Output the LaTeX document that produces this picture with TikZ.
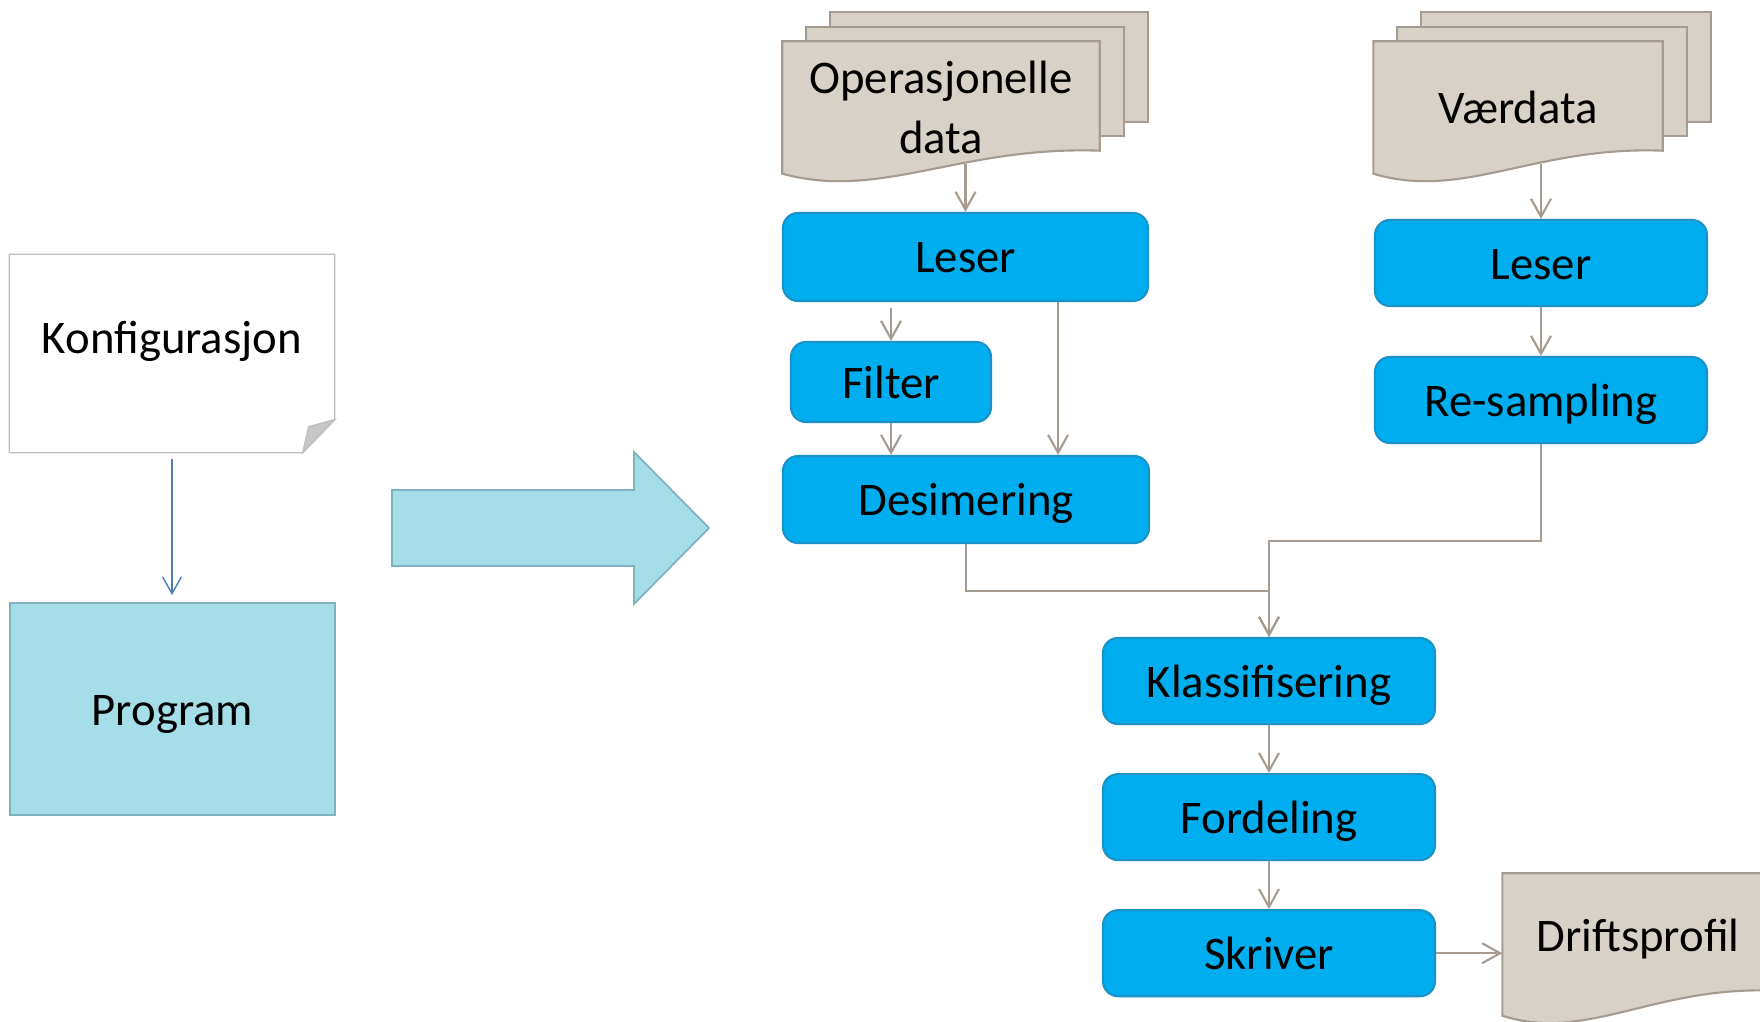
\documentclass[tikz,border=0pt]{standalone}
\usepackage{fontspec}
\setmainfont{Carlito}
\usepackage{tikz}
\usetikzlibrary{calc,chains,positioning,arrows.meta,backgrounds}
\usepackage{color}
\definecolor{boxblue}{RGB}{0,174,239}
\definecolor{boxline}{RGB}{24,146,200}
\definecolor{docfill}{RGB}{216,209,200}
\definecolor{docline}{RGB}{165,155,145}
\definecolor{pilgrey}{RGB}{166,155,145}
\definecolor{lyseblaa}{RGB}{165,222,232}
\definecolor{lyseline}{RGB}{125,178,195}
\definecolor{konfline}{RGB}{191,191,191}
\definecolor{tynnblaa}{RGB}{74,126,187}
\newcommand{\dokark}[2]{(#1.south west) -- (#1.north west) -- (#1.north east)
  -- ($(#1.south east)+(0,#2)$)
  .. controls ($(#1.south east)!0.44!(#1.south west)+(0,#2+0.05)$)
  and ($(#1.south west)!0.31!(#1.south east)+(0,-0.27)$) .. (#1.south west) -- cycle}

\begin{document}
\begin{tikzpicture}[font=\fontsize{13.3}{17}\selectfont,
    linje/.style={text height=0.32cm, text depth=0cm},
    blokk/.style={rectangle, rounded corners=0.15cm, draw=boxline, fill=boxblue,
      line width=0.6pt, minimum width=3.32cm, minimum height=0.86cm, inner sep=0pt, linje},
    dok/.style={rectangle, inner sep=0pt, align=center, minimum height=1.31cm},
    ark/.style={draw=docline, fill=docfill, line width=0.6pt},
    >={Straight Barb[length=0.18cm,width=0.2cm]},
    pil/.style={->, draw=pilgrey, line width=0.6pt},
    start chain=going below, node distance=0.48cm]

  \useasboundingbox (0,0) rectangle (17.6,-10.22);

  \node[minimum width=3.24cm, minimum height=1.97cm, inner sep=0pt] (K) at (1.72,-3.535) {};
  \draw[draw=konfline, fill=white, line width=0.4pt] (K.north west) -- (K.north east)
    -- ($(K.south east)+(0,0.33)$) -- ($(K.south east)+(-0.32,0)$) -- (K.south west) -- cycle;
  \draw[draw=konfline, fill=black!22, line width=0.4pt] ($(K.south east)+(-0.32,0)$)
    -- ($(K.south east)+(-0.26,0.26)$) -- ($(K.south east)+(0,0.33)$) -- cycle;
  \node[linje] (Kt) at ($(K.center)+(0,0.16)$) {Konfigurasjon};
  \node[draw=lyseline, fill=lyseblaa, line width=0.5pt, minimum width=3.25cm,
    minimum height=2.12cm, linje] (P) at (1.725,-7.09) {Program};
  \draw[->, >={Straight Barb[length=0.17cm,width=0.19cm]}, tynnblaa, line width=0.4pt,
    shorten <=0.06cm, shorten >=0.07cm] (K.south) -- (K.south |- P.north);

  \draw[draw=lyseline, fill=lyseblaa, line width=0.5pt] (3.92,-4.90) -- (6.34,-4.90)
    -- (6.34,-4.52) -- (7.09,-5.28) -- (6.34,-6.04) -- (6.34,-5.66) -- (3.92,-5.66) -- cycle;

  \node[dok, minimum width=3.16cm] (OD) at (9.41,-1.075) {Operasjonelle\\data};
  \node[dok, minimum width=2.88cm] (VD) at (15.18,-1.075) {Værdata};
  \node[dok, minimum width=2.70cm, minimum height=1.41cm, text height=0.33cm,
    text depth=0.2cm] (DP) at (16.38,-9.445) {Driftsprofil};
  \begin{scope}[on background layer]
    \foreach \n in {OD,VD}
      \foreach \dx/\dy in {0.48/0.29,0.24/0.145}
        \draw[ark] ($(\n.north west)+(\dx,\dy)$) rectangle ($(\n.south east)+(\dx,0.23+\dy)$);
    \draw[ark] \dokark{OD}{0.23};
    \draw[ark] \dokark{VD}{0.23};
    \draw[ark] \dokark{DP}{0.25};
  \end{scope}

  \node[blokk, minimum width=3.65cm, minimum height=0.88cm] (L1) at (9.655,-2.57) {Leser};
  \node[blokk, minimum width=2.0cm, minimum height=0.80cm] (F) at (8.91,-3.82) {Filter};
  \node[blokk, minimum width=3.66cm, minimum height=0.87cm] (D) at (9.66,-4.995) {Desimering};
  \node[blokk] (L2) at (15.41,-2.63) {Leser};
  \node[blokk] (R) at (15.41,-4.00) {Re-sampling};
  \node[blokk, on chain] (KL) at (12.69,-6.81) {Klassifisering};
  \node[blokk, on chain] (FO) {Fordeling};
  \node[blokk, on chain] (S) {Skriver};

  \draw[pil] ($(L1.north |- OD.south)+(0,0.1)$) -- (L1.north);
  \draw[pil, shorten <=0.06cm] (F.north |- L1.south) -- (F.north);
  \draw[pil] (F.south) -- (F.south |- D.north);
  \draw[pil] ($(L1.south east)+(-0.91,0)$) coordinate (q) -- (q |- D.north);
  \draw[pil] (D.south) -- ++(0,-0.47) -| (KL.north);
  \draw[pil] ($(L2.north |- VD.south)+(0,0.1)$) -- (L2.north);
  \draw[pil] (L2) -- (R);
  \draw[pil] (R.south) -- ++(0,-0.97) -| (KL.north);
  \draw[pil] (KL) -- (FO);
  \draw[pil] (FO) -- (S);
  \draw[pil] (S.east) -- (S.east -| DP.west);
\end{tikzpicture}
\end{document}
